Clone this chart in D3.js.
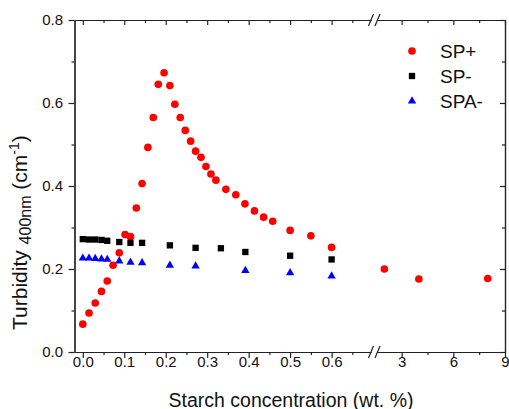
<!DOCTYPE html>
<html>
<head>
<meta charset="utf-8">
<script src="https://cdn.jsdelivr.net/npm/d3@7"></script>
<style>
  html, body { margin: 0; padding: 0; background: #fff; }
  svg { display: block; font-family: Arial, "Liberation Sans", sans-serif; }
</style>
</head>
<body>
<svg id="chart" width="509" height="409"></svg>
<script>
// starch concentration (wt. %) and turbidity (cm^-1)
const spPlusX  = [0, 0.015, 0.030, 0.045, 0.059, 0.073, 0.088, 0.102, 0.115, 0.129,
                  0.143, 0.157, 0.170, 0.182, 0.196, 0.210, 0.222, 0.235, 0.247, 0.260,
                  0.272, 0.285, 0.297, 0.309, 0.321, 0.345, 0.369, 0.391, 0.414, 0.436,
                  0.458, 0.500, 0.550, 0.600, 2, 4, 8];
const spPlusY  = [0.067, 0.094, 0.118, 0.146, 0.171, 0.209, 0.239, 0.283, 0.278, 0.347,
                  0.406, 0.493, 0.565, 0.645, 0.673, 0.642, 0.597, 0.565, 0.534, 0.508,
                  0.484, 0.469, 0.447, 0.429, 0.414, 0.392, 0.379, 0.357, 0.340, 0.325,
                  0.315, 0.293, 0.280, 0.252, 0.200, 0.176, 0.177];
const spMinusX = [0, 0.015, 0.030, 0.045, 0.059, 0.088, 0.115, 0.143, 0.210, 0.272,
                  0.333, 0.392, 0.500, 0.600];
const spMinusY = [0.272, 0.271, 0.271, 0.270, 0.268, 0.265, 0.263, 0.263, 0.257, 0.251,
                  0.250, 0.241, 0.232, 0.223];
const spaMinusX = [0, 0.015, 0.030, 0.045, 0.059, 0.088, 0.115, 0.143, 0.210, 0.272,
                   0.392, 0.500, 0.600];
const spaMinusY = [0.226, 0.226, 0.225, 0.224, 0.223, 0.219, 0.216, 0.215, 0.209, 0.207,
                   0.196, 0.191, 0.183];

const xTicksLeft  = [0, 0.1, 0.2, 0.3, 0.4, 0.5, 0.6];
const xMinorLeft  = [0.05, 0.15, 0.25, 0.35, 0.45, 0.55, 0.65];
const xTicksRight = [3, 6, 9];
const xMinorRight = [4.5, 7.5];
const yTicks      = [0, 0.2, 0.4, 0.6, 0.8];
const yMinor      = [0.1, 0.3, 0.5, 0.7];

const legendNames = ["SP+", "SP-", "SPA-"];

const svg = d3.select("#chart");

const plotL = 74.5, plotR = 505, plotT = 20, plotB = 352;
const breakL = 371, breakR = 377.5;

const xLeft  = d3.scaleLinear().domain([-0.02, 0.695]).range([plotL, breakL]);
const xRight = d3.scaleLinear().domain([1.6, 9]).range([breakR, plotR]);
const y      = d3.scaleLinear().domain([0, 0.8]).range([plotB, plotT]);

const xPos = v => v < 1 ? xLeft(v) : xRight(v);

const ink = "#222";
const fmt = d3.format(".1f");

function styleAxis(g) {
  g.selectAll("path, line").attr("stroke", ink).attr("stroke-width", 1.2);
  g.selectAll("text").attr("fill", "#111").attr("font-size", 15)
    .attr("font-family", 'Arial, "Liberation Sans", sans-serif');
}

// bottom axis, two segments
svg.append("g").attr("transform", `translate(0,${plotB})`)
  .call(d3.axisBottom(xLeft).tickValues(xTicksLeft).tickFormat(fmt).tickSize(6).tickSizeOuter(0))
  .call(styleAxis).call(g => g.selectAll("text").attr("y", 4.5));
svg.append("g").attr("transform", `translate(0,${plotB})`)
  .call(d3.axisBottom(xLeft).tickValues(xMinorLeft).tickFormat("").tickSize(3).tickSizeOuter(0))
  .call(styleAxis);
svg.append("g").attr("transform", `translate(0,${plotB})`)
  .call(d3.axisBottom(xRight).tickValues(xTicksRight).tickFormat(d3.format("d")).tickSize(6).tickSizeOuter(0))
  .call(styleAxis).call(g => g.selectAll("text").attr("y", 4.5));
svg.append("g").attr("transform", `translate(0,${plotB})`)
  .call(d3.axisBottom(xRight).tickValues(xMinorRight).tickFormat("").tickSize(3).tickSizeOuter(0))
  .call(styleAxis);

// top axis, ticks inward
svg.append("g").attr("transform", `translate(0,${plotT})`)
  .call(d3.axisTop(xLeft).tickValues(xTicksLeft).tickFormat("").tickSize(-5).tickSizeOuter(0))
  .call(styleAxis);
svg.append("g").attr("transform", `translate(0,${plotT})`)
  .call(d3.axisTop(xLeft).tickValues(xMinorLeft).tickFormat("").tickSize(-3).tickSizeOuter(0))
  .call(styleAxis);
svg.append("g").attr("transform", `translate(0,${plotT})`)
  .call(d3.axisTop(xRight).tickValues(xTicksRight).tickFormat("").tickSize(-5).tickSizeOuter(0))
  .call(styleAxis);
svg.append("g").attr("transform", `translate(0,${plotT})`)
  .call(d3.axisTop(xRight).tickValues(xMinorRight).tickFormat("").tickSize(-3).tickSizeOuter(0))
  .call(styleAxis);

// left axis
svg.append("g").attr("transform", `translate(${plotL},0)`)
  .call(d3.axisLeft(y).tickValues(yTicks).tickFormat(fmt).tickSize(6).tickPadding(5.5).tickSizeOuter(0))
  .call(styleAxis);
svg.append("g").attr("transform", `translate(${plotL},0)`)
  .call(d3.axisLeft(y).tickValues(yMinor).tickFormat("").tickSize(3).tickSizeOuter(0))
  .call(styleAxis);

// right axis, ticks inward
svg.append("g").attr("transform", `translate(${plotR},0)`)
  .call(d3.axisRight(y).tickValues(yTicks).tickFormat("").tickSize(-5).tickSizeOuter(0))
  .call(styleAxis);
svg.append("g").attr("transform", `translate(${plotR},0)`)
  .call(d3.axisRight(y).tickValues(yMinor).tickFormat("").tickSize(-3).tickSizeOuter(0))
  .call(styleAxis);

// axis break marks
[plotT, plotB].forEach(yy => {
  [breakL, breakR].forEach(bx => {
    svg.append("line")
      .attr("x1", bx - 2.5).attr("y1", yy + 6)
      .attr("x2", bx + 2.5).attr("y2", yy - 6)
      .attr("stroke", ink).attr("stroke-width", 1.2);
  });
});

// data
const series = [
  {xs: spPlusX,   ys: spPlusY,   shape: d3.symbolCircle,   size: 46, color: "#ff0000"},
  {xs: spMinusX,  ys: spMinusY,  shape: d3.symbolSquare,   size: 40, color: "#000000"},
  {xs: spaMinusX, ys: spaMinusY, shape: d3.symbolTriangle, size: 30, color: "#0000ff"}
];

series.forEach(s => {
  svg.append("g").selectAll("path")
    .data(d3.zip(s.xs, s.ys))
    .join("path")
    .attr("transform", ([cx, cy]) => `translate(${xPos(cx)},${y(cy)})`)
    .attr("d", d3.symbol(s.shape, s.size))
    .attr("fill", s.color);
});

// legend
const legend = svg.append("g").attr("transform", "translate(412,51)");
series.forEach((s, i) => {
  legend.append("path")
    .attr("transform", `translate(0,${i * 25})`)
    .attr("d", d3.symbol(s.shape, s.size))
    .attr("fill", s.color);
  legend.append("text")
    .attr("x", 28).attr("y", i * 25 + 7)
    .attr("font-size", 19).attr("fill", "#111")
    .text(legendNames[i]);
});

// axis titles
svg.append("text")
  .attr("x", 291).attr("y", 406.5)
  .attr("text-anchor", "middle")
  .attr("font-size", 19.5).attr("fill", "#111")
  .text("Starch concentration (wt. %)");

const yTitle = svg.append("text")
  .attr("transform", "translate(27,330) rotate(-90)")
  .attr("text-anchor", "start")
  .attr("font-size", 21).attr("fill", "#111");
yTitle.append("tspan").text("Turbidity ");
yTitle.append("tspan").attr("font-size", 16).attr("dy", 4).text("400nm");
yTitle.append("tspan").attr("dy", -4).text(" (cm");
yTitle.append("tspan").attr("font-size", 14).attr("dy", -8).text("-1");
yTitle.append("tspan").attr("dy", 8).text(")");
</script>
</body>
</html>
